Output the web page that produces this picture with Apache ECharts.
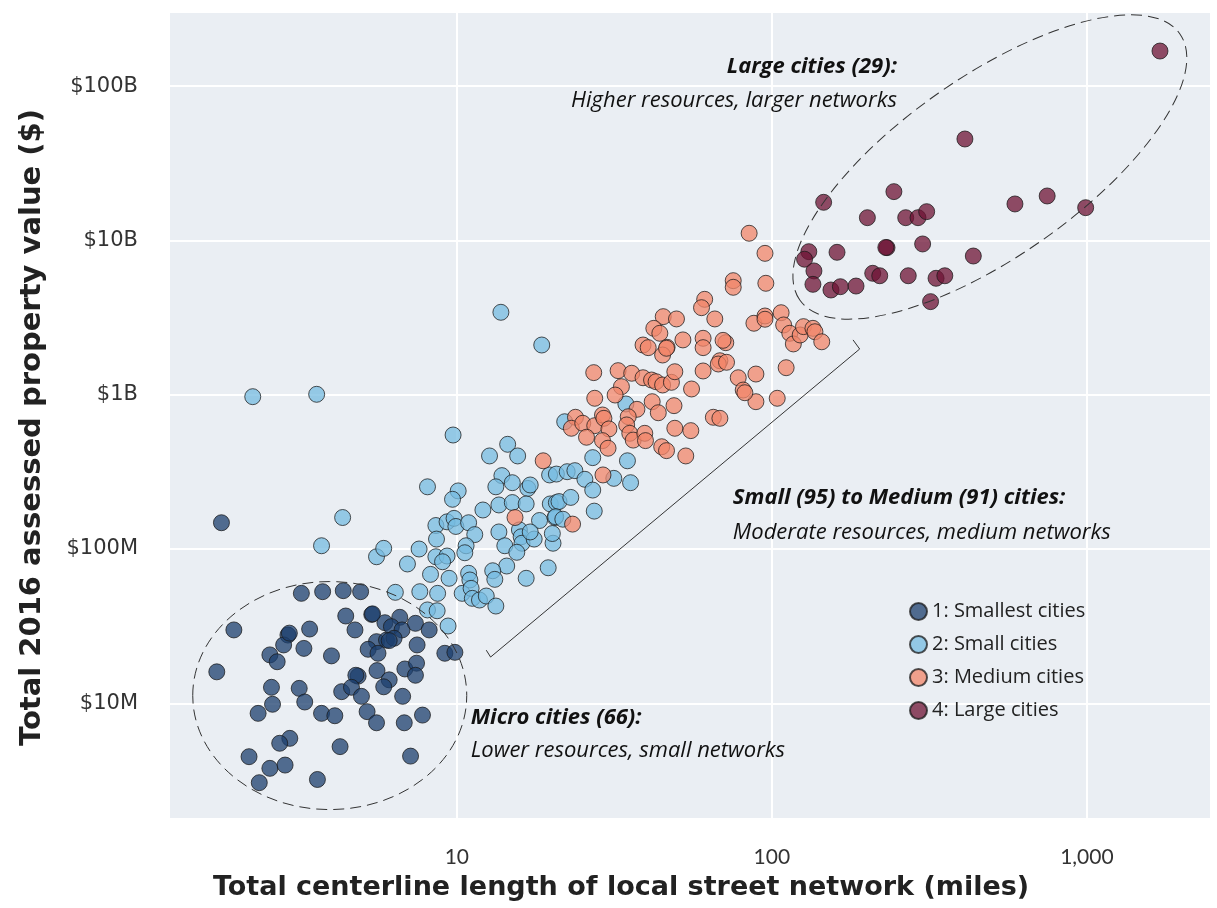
<!DOCTYPE html>
<html><head><meta charset="utf-8">
<script src="https://cdn.jsdelivr.net/npm/echarts@6/dist/echarts.min.js"></script>
<style>html,body{margin:0;padding:0;background:#fff}#c{width:1217px;height:908px}</style>
</head><body><div id="c"></div>
<script>
// values: [street network miles, assessed value in $ millions]
const seriesNames = ['1: Smallest cities', '2: Small cities', '3: Medium cities', '4: Large cities'];
const smallestCities = [[3.21,51.6],[3.75,52.9],[4.36,53.7],[4.95,52.9],[1.96,29.9],[2.91,27.7],[2.82,23.9],[3.41,30.3],[2.55,20.6],[2.69,18.6],[3.27,22.7],[4.00,20.3],[4.44,36.8],[4.75,29.9],[5.37,37.7],[5.91,33.3],[6.59,36.1],[6.20,31.4],[6.70,29.9],[7.39,33.0],[8.17,29.9],[5.56,25.1],[5.98,25.7],[6.32,26.4],[5.23,22.4],[5.62,21.1],[7.48,23.9],[9.16,21.1],[9.86,21.4],[1.73,16.0],[2.58,12.7],[3.16,12.5],[4.86,15.0],[4.78,15.2],[5.58,16.3],[6.84,16.7],[7.45,18.2],[7.39,15.2],[6.10,14.2],[5.86,12.8],[4.31,11.9],[4.63,12.7],[4.98,11.1],[6.73,11.1],[2.60,9.86],[3.29,10.2],[2.34,8.61],[3.72,8.61],[4.10,8.31],[5.19,8.83],[5.56,7.48],[6.81,7.48],[7.78,8.39],[2.95,5.93],[2.74,5.51],[4.26,5.24],[2.19,4.51],[2.55,3.79],[2.85,3.98],[2.36,3.06],[3.61,3.21],[7.13,4.55],[1.79,148],[5.40,38.0],[2.94,28.5],[6.10,25.5]];
const smallCities = [[2.25,971],[3.59,1006],[4.34,160],[3.72,105],[5.56,89.1],[5.86,101],[9.73,548],[14.5,477],[12.7,401],[15.6,401],[19.7,302],[20.7,306],[13.9,299],[15.0,269],[16.8,247],[17.1,260],[13.3,253],[8.07,253],[10.1,238],[9.69,210],[12.1,179],[13.6,193],[15.0,200],[16.6,196],[19.8,196],[20.7,200],[18.3,153],[20.5,160],[8.58,142],[9.31,150],[9.80,158],[9.93,140],[10.9,148],[11.4,124],[13.6,129],[15.8,133],[16.0,120],[16.1,109],[17.6,116],[17.1,129],[8.62,116],[14.2,105],[15.5,95.2],[20.2,109],[7.59,100],[6.97,80.0],[8.58,89.1],[9.31,90.1],[9.01,82.7],[10.7,105],[10.6,94.6],[14.4,77.6],[13.0,72.3],[13.2,63.6],[16.6,64.6],[19.5,75.6],[8.25,68.5],[9.45,64.6],[10.9,69.6],[11.0,63.0],[6.38,52.4],[7.63,52.9],[8.69,51.6],[10.4,51.6],[11.1,55.6],[11.2,47.9],[11.8,46.7],[12.4,49.6],[13.3,42.7],[8.07,40.3],[8.66,39.8],[9.38,31.7],[13.8,3420],[18.6,2099],[34.4,871],[22.0,668],[27.0,391],[34.8,373],[22.4,317],[23.7,322],[25.5,283],[27.0,241],[31.5,287],[35.6,269],[21.1,203],[23.0,216],[27.3,176],[20.6,162],[21.7,156],[20.1,126]];
const mediumCities = [[18.8,373],[15.3,160],[23.3,145],[29.1,302],[45.2,3205],[49.8,3097],[42.2,2692],[44.1,2500],[39.0,2099],[40.5,2018],[46.5,2028],[45.0,1808],[27.2,1390],[32.5,1432],[35.9,1377],[39.0,1288],[41.5,1245],[42.9,1214],[45.0,1156],[48.0,1203],[49.2,1409],[33.3,1127],[31.8,995],[27.4,948],[37.3,804],[41.7,901],[43.6,764],[48.9,849],[23.8,714],[23.1,606],[25.1,653],[27.4,630],[29.0,739],[29.3,703],[30.4,600],[35.0,720],[34.6,637],[35.4,562],[36.3,508],[39.5,562],[39.7,504],[49.2,606],[25.8,530],[29.0,504],[30.2,450],[44.7,460],[46.3,434],[84.7,11120],[95.1,8241],[75.4,5483],[75.4,4966],[95.7,5272],[61.2,4150],[59.8,3664],[65.9,3097],[52.2,2265],[60.5,2320],[60.5,2018],[71.4,2173],[70.0,2250],[46.3,1999],[87.7,2904],[95.1,3236],[95.1,3083],[107,3399],[109,2831],[114,2500],[117,2133],[123,2438],[126,2761],[135,2692],[137,2559],[144,2203],[111,1496],[104,948],[89.0,1361],[89.0,901],[78.2,1288],[81.1,1072],[82.1,1030],[68.4,1660],[67.6,1581],[71.8,1622],[60.5,1425],[55.6,1089],[65.2,714],[68.4,703],[55.3,585],[53.3,401]];
const largeCities = [[410,45400],[146,17650],[244,20700],[201,14030],[266,14030],[291,14030],[310,15350],[591,17220],[748,19400],[991,16290],[131,8450],[127,7550],[161,8370],[232,8970],[301,9480],[436,7920],[136,6340],[135,5190],[154,4770],[165,5010],[185,5060],[209,6120],[220,5900],[271,5900],[332,5680],[354,5900],[319,4010],[1706,168700],[230,9000]];
const xTickLabels = {1: '10', 2: '100', 3: '1,000'};
const yTickLabels = {7: '$10M', 8: '$100M', 9: '$1B', 10: '$10B', 11: '$100B'};

const colors = ['#1c3f6e', '#76bbe0', '#f2866a', '#6d1334'];
const groups = [smallestCities, smallCities, mediumCities, largeCities];

const chart = echarts.init(document.getElementById('c'));
function powLabel(map, v) {
  const l = Math.log10(v), r = Math.round(l);
  if (Math.abs(l - r) > 1e-6) return '';
  return map[r] || '';
}
chart.setOption({
  animation: false,
  backgroundColor: '#ffffff',
  grid: {left: 169, top: 12, width: 1042, height: 807, show: true, backgroundColor: '#eaeef3', borderWidth: 0},
  xAxis: {
    type: 'log', logBase: 10, min: 1.22, max: 2477,
    axisLine: {show: false}, axisTick: {show: false},
    splitLine: {show: true, lineStyle: {color: '#ffffff', width: 2}},
    axisLabel: {margin: 28, fontFamily: 'Lato', fontSize: 21, color: '#333', showMinLabel: false, showMaxLabel: false,
      formatter: v => powLabel(xTickLabels, v)},
    name: 'Total centerline length of local street network (miles)', nameLocation: 'middle', nameGap: 55,
    nameTextStyle: {fontFamily: 'DejaVu Sans', fontWeight: 'bold', fontSize: 27, color: '#222', padding: [0, 138, 0, 0]}
  },
  yAxis: {
    type: 'log', logBase: 10, min: 1.78e6, max: 3.02e11,
    axisLine: {show: false}, axisTick: {show: false},
    splitLine: {show: true, lineStyle: {color: '#ffffff', width: 2}},
    axisLabel: {margin: 31, fontFamily: 'DejaVu Sans', fontSize: 21, color: '#333', showMinLabel: false, showMaxLabel: false,
      formatter: v => powLabel(yTickLabels, v)},
    name: 'Total 2016 assessed property value ($)', nameLocation: 'middle', nameGap: 122,
    nameTextStyle: {fontFamily: 'DejaVu Sans', fontWeight: 'bold', fontSize: 29, color: '#222', padding: [0, 24, 0, 0]}
  },
  legend: {
    orient: 'vertical', left: 904, top: 596, itemWidth: 17, itemHeight: 17, itemGap: 12, icon: 'circle',
    textStyle: {fontFamily: 'Open Sans', fontSize: 20, color: '#222', lineHeight: 21},
    data: seriesNames
  },
  series: groups.map((g, i) => ({
    name: seriesNames[i], type: 'scatter', symbol: 'circle', symbolSize: 16,
    itemStyle: {color: colors[i], opacity: 0.75, borderColor: '#1a1a1a', borderWidth: 1},
    emphasis: {disabled: true},
    data: g.map(p => [p[0], p[1] * 1e6])
  }))
});

// annotation anchors in data units (miles, $ millions)
const px = (x, yM) => chart.convertToPixel({xAxisIndex: 0, yAxisIndex: 0}, [x, yM * 1e6]);
const microC = px(3.95, 11.23), largeC = px(492, 29900);
const bracket = [px(181, 2265), px(190, 1977), px(12.8, 19.95), px(12.4, 22.1)];
const dash = {fill: null, stroke: '#333', lineWidth: 1, lineDash: [11, 6]};
function txt(p, s, align, bold) {
  return {type: 'text', x: p[0], y: p[1], silent: true, z: 100,
    style: {text: s, fontFamily: 'Open Sans', fontSize: 22, fontStyle: 'italic', fontWeight: bold ? 'bold' : 'normal',
      fill: '#111', align: align, verticalAlign: 'middle'}};
}
chart.setOption({graphic: [
  {type: 'ellipse', x: microC[0], y: microC[1], shape: {cx: 0, cy: 0, rx: 137, ry: 114}, style: dash, silent: true, z: 100},
  {type: 'ellipse', x: largeC[0], y: largeC[1], rotation: 35 * Math.PI / 180, shape: {cx: 0, cy: 0, rx: 232, ry: 90}, style: dash, silent: true, z: 100},
  {type: 'polyline', shape: {points: bracket}, style: {fill: null, stroke: '#333', lineWidth: 1}, silent: true, z: 100},
  txt(px(249.4, 133000), 'Large cities (29):', 'right', true),
  txt(px(249.4, 80100), 'Higher resources, larger networks', 'right', false),
  txt(px(75.2, 214), 'Small (95) to Medium (91) cities:', 'left', true),
  txt(px(75.2, 127), 'Moderate resources, medium networks', 'left', false),
  txt(px(11.07, 8.03), 'Micro cities (66):', 'left', true),
  txt(px(11.07, 4.91), 'Lower resources, small networks', 'left', false)
]});
</script></body></html>
